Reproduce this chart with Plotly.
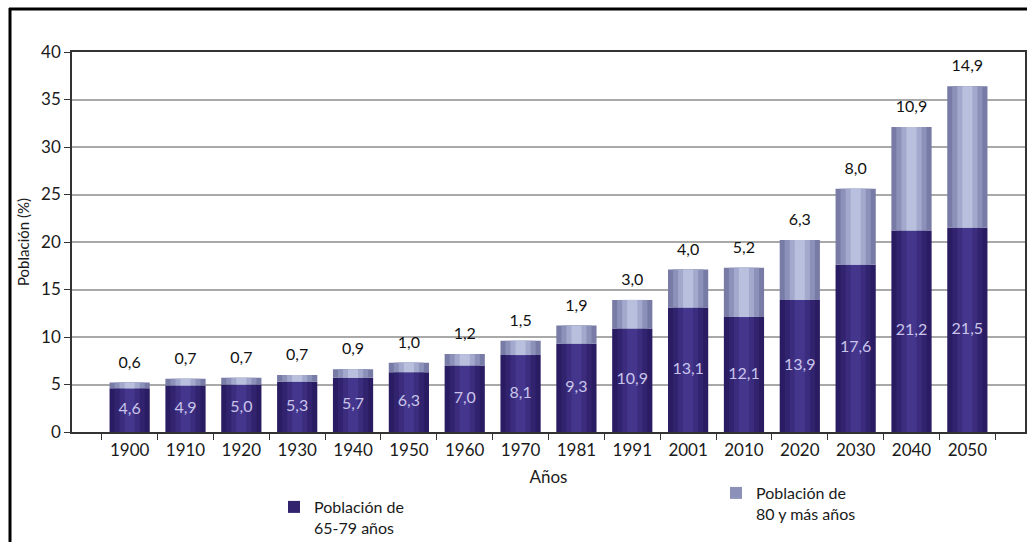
import plotly.graph_objects as go

# Población de 65 años y más, por grupo de edad (%)
anios = ["1900", "1910", "1920", "1930", "1940", "1950", "1960", "1970",
         "1981", "1991", "2001", "2010", "2020", "2030", "2040", "2050"]
pob_65_79 = [4.6, 4.9, 5.0, 5.3, 5.7, 6.3, 7.0, 8.1, 9.3, 10.9, 13.1, 12.1,
             13.9, 17.6, 21.2, 21.5]
pob_80_mas = [0.6, 0.7, 0.7, 0.7, 0.9, 1.0, 1.2, 1.5, 1.9, 3.0, 4.0, 5.2,
              6.3, 8.0, 10.9, 14.9]

total = [a + b for a, b in zip(pob_65_79, pob_80_mas)]


def coma(v):
    return f"{v:.1f}".replace(".", ",")


FONT = "Lato, 'Open Sans', sans-serif"
TXT = "#1a1a1a"

# Plot area in pixels (used to place the frame lines and legends in paper coordinates)
W, H = 1027, 542
L, R, T, B = 72, 2, 52, 110
PW, PH = W - L - R, H - T - B


def px_x(px):
    return (px - L) / PW


def px_y(py):
    return (H - B - py) / PH


# Layers from the outer edge to the centre give each bar a cylinder shading
capas_oscuras = [(0.72, "#2a1c62"), (0.54, "#32236f"), (0.36, "#3b2c7e"), (0.18, "#45368d")]
capas_claras = [(0.72, "#777ba6"), (0.54, "#8c91ba"), (0.36, "#a3a9cd"), (0.18, "#b9c0de")]

fig = go.Figure()

for i, (w, c) in enumerate(capas_oscuras):
    fig.add_trace(go.Bar(
        x=anios, y=pob_65_79, width=w,
        marker=dict(color=c, line=dict(width=0)),
        name="Población de<br>65-79 años",
        showlegend=(i == 1), legend="legend",
        hoverinfo="skip" if i else None,
    ))

for i, (w, c) in enumerate(capas_claras):
    fig.add_trace(go.Bar(
        x=anios, y=pob_80_mas, base=pob_65_79, width=w,
        marker=dict(color=c, line=dict(width=0)),
        name="Población de<br>80 y más años",
        showlegend=(i == 1), legend="legend2",
        hoverinfo="skip" if i else None,
    ))

# Values of the 65-79 group, inside the dark segment
fig.add_trace(go.Scatter(
    x=anios, y=[v / 2 for v in pob_65_79], mode="text",
    text=[coma(v) for v in pob_65_79], textposition="middle center",
    textfont=dict(family=FONT, size=16, color="#c9c5ea"),
    showlegend=False, hoverinfo="skip",
))

# Values of the 80+ group, above each bar
fig.add_trace(go.Scatter(
    x=anios, y=total, mode="markers+text",
    marker=dict(size=16, opacity=0),
    text=[coma(v) for v in pob_80_mas], textposition="top center",
    textfont=dict(family=FONT, size=16, color="#111111"),
    showlegend=False, hoverinfo="skip",
))

fig.update_layout(
    width=W, height=H,
    margin=dict(l=L, r=R, t=T, b=B, autoexpand=False),
    paper_bgcolor="white", plot_bgcolor="white",
    barmode="overlay",
    font=dict(family=FONT, size=15, color=TXT),
    xaxis=dict(
        type="category", tickson="boundaries", automargin=False,
        ticks="outside", ticklen=6, tickwidth=1.2, tickcolor="#333",
        ticklabelstandoff=2,
        showline=True, linecolor="#333", linewidth=1.5, mirror=True,
        showgrid=False,
        tickfont=dict(family=FONT, size=17, color=TXT),
        title=dict(text="Años", font=dict(family=FONT, size=17, color=TXT), standoff=12),
    ),
    yaxis=dict(
        range=[0, 40], dtick=5, automargin=False,
        ticks="outside", ticklen=6, tickwidth=1.2, tickcolor="#333",
        showline=True, linecolor="#333", linewidth=1.5, mirror=True,
        showgrid=True, gridcolor="#a9a9a9", gridwidth=1.5, zeroline=False,
        tickfont=dict(family=FONT, size=17, color=TXT),
        title=dict(text="Población (%)", font=dict(family=FONT, size=15, color=TXT), standoff=8),
    ),
    legend=dict(
        x=px_x(274), y=px_y(490), xanchor="left", yanchor="top",
        valign="top", itemwidth=30, bgcolor="rgba(0,0,0,0)",
        font=dict(family=FONT, size=16, color=TXT),
    ),
    legend2=dict(
        x=px_x(716), y=px_y(476), xanchor="left", yanchor="top",
        valign="top", itemwidth=30, bgcolor="rgba(0,0,0,0)",
        font=dict(family=FONT, size=16, color=TXT),
    ),
    shapes=[
        dict(type="line", xref="paper", yref="paper",
             x0=px_x(9), x1=px_x(1030), y0=px_y(9), y1=px_y(9),
             line=dict(color="black", width=3)),
        dict(type="line", xref="paper", yref="paper",
             x0=px_x(10), x1=px_x(10), y0=px_y(8), y1=px_y(545),
             line=dict(color="black", width=3)),
    ],
)

fig.write_html("out.html")
